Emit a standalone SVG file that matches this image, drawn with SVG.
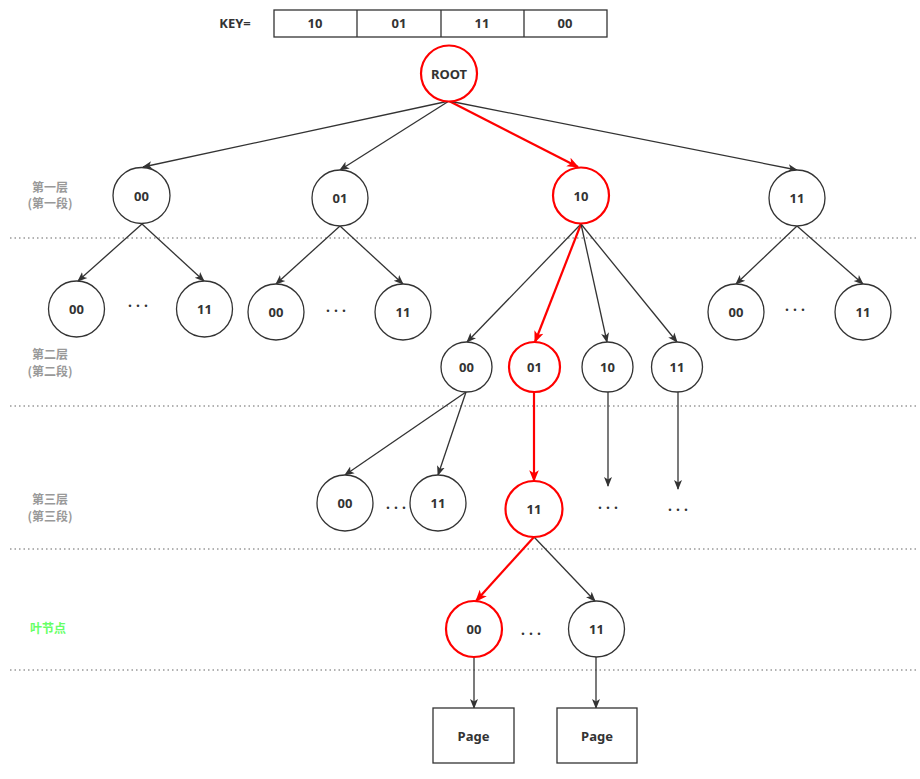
<svg xmlns="http://www.w3.org/2000/svg" width="920" height="779" viewBox="0 0 920 779">
<defs>
<marker id="ah" viewBox="0 0 10 10" refX="9" refY="5" markerWidth="10" markerHeight="10" markerUnits="userSpaceOnUse" orient="auto"><path d="M0,1 L10,5 L0,9 L2.5,5 Z" fill="#333"/></marker>
<marker id="ahr" viewBox="0 0 10 10" refX="9" refY="5" markerWidth="12" markerHeight="12" markerUnits="userSpaceOnUse" orient="auto"><path d="M0,1 L10,5 L0,9 L2.5,5 Z" fill="#ff0000"/></marker>
</defs>
<style>
.n{fill:#fff;stroke:#333;stroke-width:1.3}
.r{fill:#fff;stroke:#ff0000;stroke-width:2.2}
.t{font-family:"Noto Sans","Liberation Sans",sans-serif;font-size:13px;font-weight:bold;fill:#333;text-anchor:middle;dominant-baseline:central}
.e{fill:none;stroke:#333;stroke-width:1.3;marker-end:url(#ah)}
.er{fill:none;stroke:#ff0000;stroke-width:2.2;marker-end:url(#ahr)}
.d{stroke:#999;stroke-width:1.3;stroke-dasharray:1.5 3}
.l{font-family:"Noto Sans CJK SC","Noto Sans",sans-serif;font-size:12px;font-weight:bold;fill:#999;text-anchor:middle}
.dots{font-family:"Noto Sans","Liberation Sans",sans-serif;font-size:14px;font-weight:bold;fill:#333;text-anchor:middle;letter-spacing:4px}
</style>
<rect width="920" height="779" fill="#fff"/>
<g id="separators">
<line class="d" x1="10" y1="238" x2="918" y2="238"/>
<line class="d" x1="10" y1="406" x2="918" y2="406"/>
<line class="d" x1="10" y1="549" x2="918" y2="549"/>
<line class="d" x1="10" y1="670" x2="918" y2="670"/>
</g>
<g id="labels">
<text class="l" x="50" y="192">第一层</text>
<text class="l" x="50" y="208">(第一段)</text>
<text class="l" x="50" y="359">第二层</text>
<text class="l" x="50" y="376">(第二段)</text>
<text class="l" x="50" y="504">第三层</text>
<text class="l" x="50" y="521">(第三段)</text>
<text class="l" x="48" y="633" style="fill:#66ff66">叶节点</text>
</g>
<g id="key">
<text class="t" x="235" y="23">KEY=</text>
<rect x="274" y="10" width="333" height="27" fill="#fff" stroke="#333" stroke-width="1.3"/>
<line x1="357" y1="10" x2="357" y2="37" stroke="#333" stroke-width="1.3"/>
<line x1="441" y1="10" x2="441" y2="37" stroke="#333" stroke-width="1.3"/>
<line x1="524" y1="10" x2="524" y2="37" stroke="#333" stroke-width="1.3"/>
<text class="t" x="315" y="23">10</text>
<text class="t" x="399" y="23">01</text>
<text class="t" x="482" y="23">11</text>
<text class="t" x="565" y="23">00</text>
</g>
<g id="connectors">
<line class="e" x1="449" y1="101" x2="143" y2="167"/>
<line class="e" x1="449" y1="101" x2="340" y2="170"/>
<line class="er" x1="449" y1="101" x2="578" y2="167"/>
<line class="e" x1="449" y1="101" x2="797" y2="170"/>
<line class="e" x1="142" y1="224" x2="78" y2="281"/>
<line class="e" x1="142" y1="224" x2="204" y2="281"/>
<line class="e" x1="340" y1="226" x2="276" y2="284"/>
<line class="e" x1="340" y1="226" x2="403" y2="284"/>
<line class="e" x1="797" y1="226" x2="736" y2="284"/>
<line class="e" x1="797" y1="226" x2="863" y2="284"/>
<line class="e" x1="581" y1="224" x2="467" y2="342"/>
<line class="er" x1="581" y1="224" x2="535" y2="342"/>
<line class="e" x1="581" y1="224" x2="607" y2="342"/>
<line class="e" x1="581" y1="224" x2="677" y2="342"/>
<line class="e" x1="466" y1="392" x2="345" y2="475"/>
<line class="e" x1="466" y1="392" x2="438" y2="475"/>
<line class="er" x1="534" y1="392" x2="534" y2="481"/>
<line class="e" x1="608" y1="392" x2="608" y2="486"/>
<line class="e" x1="678" y1="392" x2="678" y2="489"/>
<line class="er" x1="534" y1="537" x2="476" y2="601"/>
<line class="e" x1="534" y1="537" x2="595" y2="601"/>
<line class="e" x1="474" y1="657" x2="474" y2="708"/>
<line class="e" x1="596" y1="657" x2="596" y2="708"/>
</g>
<g id="root"><ellipse class="r" cx="449" cy="73.5" rx="28" ry="28"/><text class="t" x="449" y="74">ROOT</text></g>
<g id="l1-00"><ellipse class="n" cx="141.5" cy="195.5" rx="28.5" ry="28"/><text class="t" x="141.5" y="196">00</text></g>
<g id="l1-01"><ellipse class="n" cx="340" cy="198" rx="28" ry="28"/><text class="t" x="340" y="198">01</text></g>
<g id="l1-10"><ellipse class="r" cx="581" cy="195.5" rx="28" ry="28"/><text class="t" x="581" y="196">10</text></g>
<g id="l1-11"><ellipse class="n" cx="797" cy="198" rx="28" ry="28"/><text class="t" x="797" y="198">11</text></g>
<g id="l2a-00"><ellipse class="n" cx="76.5" cy="309" rx="28" ry="28"/><text class="t" x="76.5" y="309">00</text></g>
<text class="dots" x="140" y="307">...</text>
<g id="l2a-11"><ellipse class="n" cx="204.5" cy="309" rx="28" ry="28"/><text class="t" x="204.5" y="309">11</text></g>
<g id="l2b-00"><ellipse class="n" cx="276" cy="312" rx="28" ry="28"/><text class="t" x="276" y="312">00</text></g>
<text class="dots" x="338" y="312">...</text>
<g id="l2b-11"><ellipse class="n" cx="403" cy="312" rx="28" ry="28"/><text class="t" x="403" y="312">11</text></g>
<g id="l2d-00"><ellipse class="n" cx="736" cy="312" rx="28" ry="28"/><text class="t" x="736" y="312">00</text></g>
<text class="dots" x="797" y="311">...</text>
<g id="l2d-11"><ellipse class="n" cx="863" cy="312" rx="28" ry="28"/><text class="t" x="863" y="312">11</text></g>
<g id="l2c-00"><ellipse class="n" cx="466.5" cy="367" rx="25.5" ry="25"/><text class="t" x="466.5" y="367">00</text></g>
<g id="l2c-01"><ellipse class="r" cx="534.5" cy="367" rx="25.5" ry="25"/><text class="t" x="534.5" y="367">01</text></g>
<g id="l2c-10"><ellipse class="n" cx="607.5" cy="367" rx="25.5" ry="25"/><text class="t" x="607.5" y="367">10</text></g>
<g id="l2c-11"><ellipse class="n" cx="677" cy="367" rx="25.5" ry="25"/><text class="t" x="677" y="367">11</text></g>
<g id="l3-00"><ellipse class="n" cx="345" cy="503" rx="28" ry="28"/><text class="t" x="345" y="503">00</text></g>
<text class="dots" x="398" y="509">...</text>
<g id="l3-11"><ellipse class="n" cx="438" cy="503" rx="28" ry="28"/><text class="t" x="438" y="503">11</text></g>
<g id="l3-red11"><ellipse class="r" cx="534" cy="509" rx="28.5" ry="28"/><text class="t" x="534" y="509">11</text></g>
<text class="dots" x="610" y="509">...</text>
<text class="dots" x="680" y="511">...</text>
<g id="leaf-00"><ellipse class="r" cx="474" cy="629" rx="28" ry="28"/><text class="t" x="474" y="629">00</text></g>
<text class="dots" x="533" y="635">...</text>
<g id="leaf-11"><ellipse class="n" cx="596.5" cy="629" rx="28" ry="28"/><text class="t" x="596.5" y="629">11</text></g>
<g id="page1"><rect x="433" y="708" width="81" height="55" fill="#fff" stroke="#333" stroke-width="1.3"/><text class="t" x="473.5" y="736">Page</text></g>
<g id="page2"><rect x="557" y="708" width="80" height="55" fill="#fff" stroke="#333" stroke-width="1.3"/><text class="t" x="597" y="736">Page</text></g>
</svg>
